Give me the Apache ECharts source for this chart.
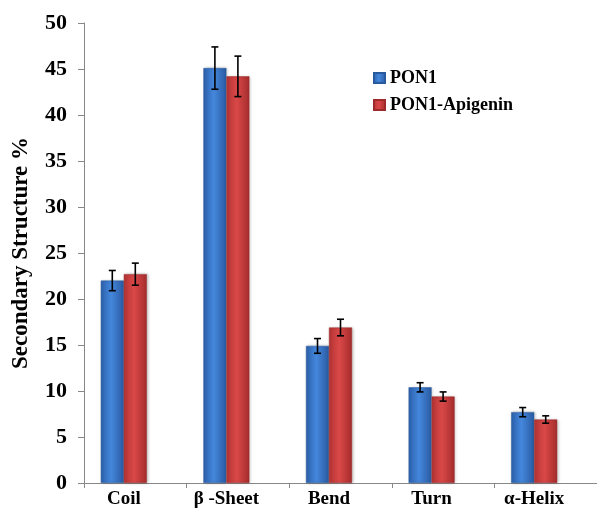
<!DOCTYPE html>
<html>
<head>
<meta charset="utf-8">
<script src="https://cdn.jsdelivr.net/npm/echarts@6/dist/echarts.min.js"></script>
<style>
html,body{margin:0;padding:0;background:#fff;}
#chart{width:597px;height:509px;}
</style>
</head>
<body>
<div id="chart"></div>
<script>
const categories = ['Coil', 'β -Sheet', 'Bend', 'Turn', 'α-Helix'];
const pon1 = [22.0, 45.1, 14.9, 10.4, 7.7];
const pon1Err = [1.1, 2.3, 0.8, 0.5, 0.5];
const pon1Api = [22.7, 44.2, 16.9, 9.4, 6.9];
const pon1ApiErr = [1.2, 2.2, 0.9, 0.5, 0.4];
const yTicks = [0, 5, 10, 15, 20, 25, 30, 35, 40, 45, 50];

const FONT = 'Liberation Serif';
const BAR_W = 23;

const blueGrad = new echarts.graphic.LinearGradient(0, 0, 1, 0, [
  {offset: 0, color: '#2c61ad'},
  {offset: 0.45, color: '#4487dc'},
  {offset: 1, color: '#2a5aa2'}
]);
const redGrad = new echarts.graphic.LinearGradient(0, 0, 1, 0, [
  {offset: 0, color: '#b53434'},
  {offset: 0.45, color: '#da4848'},
  {offset: 1, color: '#a52c2c'}
]);

function errSeries(values, errs, offsetFactor) {
  return {
    type: 'custom',
    silent: true,
    z: 5,
    data: values.map((v, i) => [i, v, errs[i]]),
    renderItem: function (params, api) {
      const idx = api.value(0);
      const v = api.value(1), e = api.value(2);
      const top = api.coord([idx, v + e]);
      const bot = api.coord([idx, v - e]);
      const x = top[0] + offsetFactor * BAR_W;
      const cap = 3.5;
      const style = {stroke: '#000', lineWidth: 1.6};
      return {
        type: 'group',
        children: [
          {type: 'line', shape: {x1: x, y1: top[1], x2: x, y2: bot[1]}, style: style},
          {type: 'line', shape: {x1: x - cap, y1: top[1], x2: x + cap, y2: top[1]}, style: style},
          {type: 'line', shape: {x1: x - cap, y1: bot[1], x2: x + cap, y2: bot[1]}, style: style}
        ]
      };
    }
  };
}

const chart = echarts.init(document.getElementById('chart'));
chart.setOption({
  animation: false,
  textStyle: {fontFamily: FONT},
  grid: {left: 84, right: -7, top: 23, bottom: 24, containLabel: false},
  legend: {
    data: ['PON1', 'PON1-Apigenin'],
    orient: 'vertical',
    left: 368,
    top: 64,
    itemWidth: 11,
    itemHeight: 10,
    itemGap: 9,
    icon: 'rect',
    textStyle: {fontFamily: FONT, fontWeight: 'bold', fontSize: 18, color: '#000'}
  },
  xAxis: {
    type: 'category',
    data: categories,
    axisLine: {lineStyle: {color: '#888', width: 1}},
    axisTick: {show: true, length: 5, lineStyle: {color: '#888'}},
    axisLabel: {fontFamily: FONT, fontWeight: 'bold', fontSize: 19, color: '#000', margin: 7, padding: [0, BAR_W, 0, 0]}
  },
  yAxis: {
    type: 'value',
    min: yTicks[0],
    max: yTicks[yTicks.length - 1],
    interval: yTicks[1] - yTicks[0],
    name: 'Secondary Structure %',
    nameLocation: 'middle',
    nameRotate: 90,
    nameGap: 51,
    nameTextStyle: {fontFamily: FONT, fontWeight: 'bold', fontSize: 23, color: '#000'},
    axisLine: {show: true, lineStyle: {color: '#888', width: 1}},
    axisTick: {show: true, length: 6, lineStyle: {color: '#888'}},
    splitLine: {show: false},
    axisLabel: {fontFamily: FONT, fontWeight: 'bold', fontSize: 22, color: '#000', margin: 17}
  },
  series: [
    {
      name: 'PON1', type: 'bar', data: pon1, barWidth: BAR_W, barGap: '0%',
      itemStyle: {color: blueGrad, borderColor: '#2a5a9e', borderWidth: 0.5, shadowColor: 'rgba(0,0,0,0.25)', shadowBlur: 3, shadowOffsetX: 1}
    },
    {
      name: 'PON1-Apigenin', type: 'bar', data: pon1Api, barWidth: BAR_W, barGap: '0%',
      itemStyle: {color: redGrad, borderColor: '#9e2a2a', borderWidth: 0.5, shadowColor: 'rgba(0,0,0,0.25)', shadowBlur: 3, shadowOffsetX: 1}
    },
    {
      name: 'spacer', type: 'bar', data: categories.map(() => null), barWidth: BAR_W, barGap: '0%'
    },
    errSeries(pon1, pon1Err, -1),
    errSeries(pon1Api, pon1ApiErr, 0)
  ]
});
</script>
</body>
</html>
